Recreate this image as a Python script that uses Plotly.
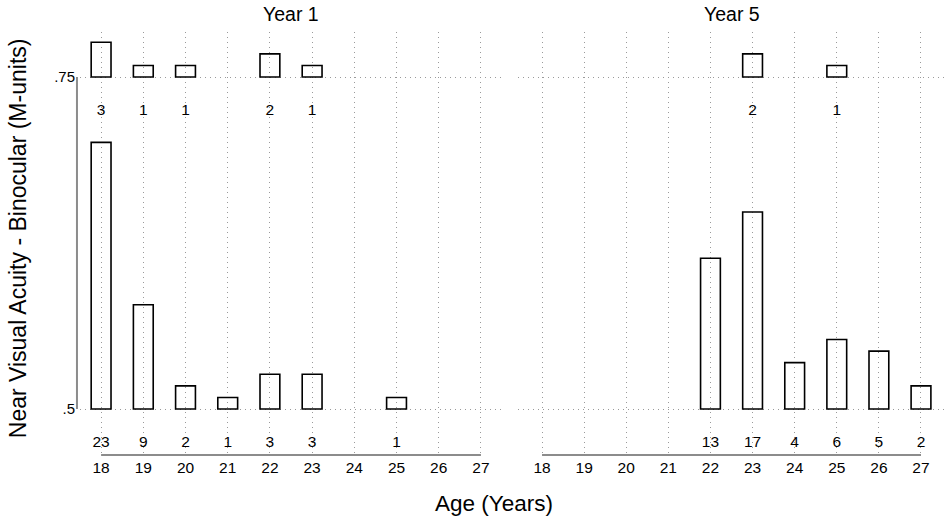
import plotly.graph_objects as go

# Data: number of subjects at each age, split by near visual acuity level
ages = [18, 19, 20, 21, 22, 23, 24, 25, 26, 27]
acuity_levels = [0.5, 0.75]

year1_at_50 = [23, 9, 2, 1, 3, 3, 0, 1, 0, 0]
year1_at_75 = [3, 1, 1, 0, 2, 1, 0, 0, 0, 0]
year5_at_50 = [0, 0, 0, 0, 13, 17, 4, 6, 5, 2]
year5_at_75 = [0, 0, 0, 0, 0, 2, 0, 1, 0, 0]

panel_titles = ["Year 1", "Year 5"]

# Styling
FONT = "Liberation Sans"
COUNT_SCALE = 0.00873   # y units per subject
LABEL_OFFSET = 0.0255   # count label distance below each level
BAR_WIDTH = 0.47
GRID = "#9a9a9a"
AXIS_LINE = "#8c8c8c"


def add_panel(fig, counts_by_level, xref, yref):
    for level, counts in zip(acuity_levels, counts_by_level):
        xs = [a for a, c in zip(ages, counts) if c > 0]
        cs = [c for c in counts if c > 0]
        fig.add_trace(go.Bar(
            x=xs,
            y=[c * COUNT_SCALE for c in cs],
            base=level,
            width=BAR_WIDTH,
            marker=dict(color="rgba(0,0,0,0)", line=dict(color="black", width=1.6)),
            xaxis=xref, yaxis=yref,
            showlegend=False,
            hoverinfo="skip",
        ))
        # counts written under each bar
        fig.add_trace(go.Scatter(
            x=xs,
            y=[level - LABEL_OFFSET] * len(xs),
            text=[str(c) for c in cs],
            mode="text",
            textfont=dict(family=FONT, size=15.5, color="black"),
            xaxis=xref, yaxis=yref,
            showlegend=False,
            hoverinfo="skip",
        ))


fig = go.Figure()
add_panel(fig, [year1_at_50, year1_at_75], "x", "y")
add_panel(fig, [year5_at_50, year5_at_75], "x2", "y")

xaxis_style = dict(
    tickvals=ages,
    ticktext=[str(a) for a in ages],
    showgrid=True, gridcolor=GRID, gridwidth=1, griddash="1px,4px",
    zeroline=False, showline=False, ticks="",
    tickfont=dict(family=FONT, size=15.5, color="black"),
    ticklabelstandoff=1,
)

fig.update_layout(
    width=945, height=519,
    margin=dict(l=80, r=0, t=32, b=64),
    plot_bgcolor="white", paper_bgcolor="white",
    barmode="overlay",
    font=dict(family=FONT, color="black"),
    xaxis=dict(domain=[0, 0.4879], range=[17.5, 27.5], **xaxis_style),
    xaxis2=dict(domain=[0.5064, 1], range=[17.43, 27.57], anchor="y", **xaxis_style),
    yaxis=dict(
        range=[0.4654, 0.7839],
        tickvals=acuity_levels, ticktext=[".5", ".75"],
        showgrid=True, gridcolor=GRID, gridwidth=1, griddash="1px,4px",
        zeroline=False, showline=False, ticks="",
        tickfont=dict(family=FONT, size=15, color="black"),
        ticklabelstandoff=4,
    ),
)

# Axis lines span only the tick range
fig.add_shape(type="line", xref="paper", yref="y", x0=-0.0035, x1=-0.0035,
              y0=acuity_levels[0], y1=acuity_levels[-1],
              line=dict(color=AXIS_LINE, width=2))
for xr in ["x", "x2"]:
    fig.add_shape(type="line", xref=xr, yref="paper", x0=ages[0], x1=ages[-1],
                  y0=0, y1=0, line=dict(color=AXIS_LINE, width=2))

# Panel titles
for xr, title in zip(["x domain", "x2 domain"], panel_titles):
    fig.add_annotation(text=title, xref=xr, yref="paper", x=0.5, y=1.0426,
                       showarrow=False, yanchor="middle",
                       font=dict(family=FONT, size=19.5, color="black"))

# Axis titles
fig.add_annotation(text="Near Visual Acuity - Binocular (M-units)", textangle=-90,
                   xref="paper", yref="paper", x=-0.072, y=0.5118,
                   xanchor="center", yanchor="middle", showarrow=False,
                   font=dict(family=FONT, size=23, color="black"))
fig.add_annotation(text="Age (Years)", xref="paper", yref="paper",
                   x=0.4786, y=-0.1158, xanchor="center", yanchor="middle",
                   showarrow=False, font=dict(family=FONT, size=22.5, color="black"))

# drop the default page margin so the figure sits at the window's top-left corner
fig.write_html("out.html", config={"displayModeBar": False},
               post_script="document.body.style.margin='0px';")
